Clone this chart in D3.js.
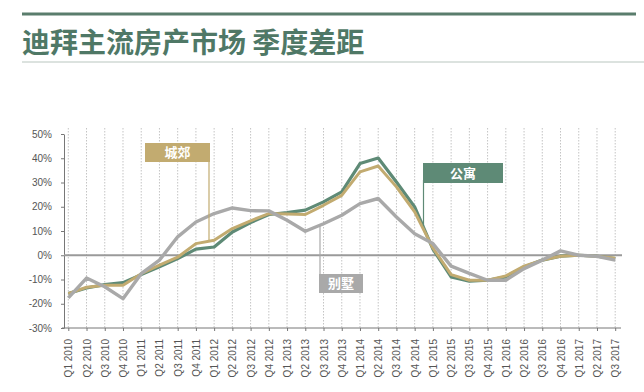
<!DOCTYPE html>
<html><head><meta charset="utf-8">
<script src="https://cdn.jsdelivr.net/npm/d3@7"></script>
<style>body{margin:0;background:#fff}</style>
</head><body>
<svg id="c" width="644" height="392"></svg>
<script>
const categories = ["Q1 2010","Q2 2010","Q3 2010","Q4 2010","Q1 2011","Q2 2011","Q3 2011","Q4 2011","Q1 2012","Q2 2012","Q3 2012","Q4 2012","Q1 2013","Q2 2013","Q3 2013","Q4 2013","Q1 2014","Q2 2014","Q3 2014","Q4 2014","Q1 2015","Q2 2015","Q3 2015","Q4 2015","Q1 2016","Q2 2016","Q3 2016","Q4 2016","Q1 2017","Q2 2017","Q3 2017"];
const apartment = [-15.8,-13.5,-12.1,-11.3,-8,-4.8,-1.4,2.5,3.4,9.6,13.5,16.8,17.6,18.6,22,26.1,37.8,40.1,30.2,19.9,2.5,-8.9,-10.7,-10.3,-8.9,-4.8,-2,-0.4,0,-0.4,-1.4];
const suburb = [-15.8,-13.2,-12.4,-12.4,-7.6,-4.1,-0.8,4.8,6.2,11,14.2,17.2,17,16.8,20.6,24.7,34.4,36.8,28.2,17.9,3,-8,-10.3,-10.3,-8.5,-4.5,-2,-0.4,0,-0.4,-1.2];
const villa = [-17.6,-9.4,-13,-17.9,-7.6,-2,7.6,13.7,17.2,19.5,18.4,18.3,14.4,9.9,13,16.5,21.3,23.4,15.8,8.9,4.8,-4.5,-7.5,-10.3,-10.3,-5.5,-2,1.8,0,-0.4,-2];
const yTicks = [-30,-20,-10,0,10,20,30,40,50];
const seriesNames = ["公寓","城郊","别墅"];

const svg = d3.select("#c");
const green = "#5e8a76", tan = "#c2ab70", gray = "#a9a9a9";

// title block
svg.append("line").attr("x1",22).attr("x2",636).attr("y1",14).attr("y2",14).attr("stroke","#5a7d6c").attr("stroke-width",3);
svg.append("text").attr("x",22).attr("y",53).text("迪拜主流房产市场 季度差距")
  .attr("font-family","'Noto Sans CJK SC'").attr("font-weight","bold").attr("font-size",28).attr("fill","#4f7866");
svg.append("line").attr("x1",22).attr("x2",644).attr("y1",62).attr("y2",62).attr("stroke","#b9c6bf").attr("stroke-width",1);

const x = d3.scalePoint().domain(categories).range([68.3,615.2]);
const y = d3.scaleLinear().domain([-30,50]).range([328,134]);

// grid
svg.append("g").selectAll("line").data(categories).join("line")
  .attr("x1",d=>x(d)).attr("x2",d=>x(d)).attr("y1",128).attr("y2",328)
  .attr("stroke","#c4c4c4").attr("stroke-width",1).attr("stroke-dasharray","1.5,1.5");

// y axis
const ya = svg.append("g").attr("transform","translate(64,0)")
  .call(d3.axisLeft(y).tickValues(yTicks).tickSize(3).tickSizeOuter(0).tickFormat(d=>d+"%"));
ya.select(".domain").attr("stroke","#777");
ya.selectAll(".tick line").attr("stroke","#777");
ya.selectAll("text").attr("font-family","Liberation Sans, Arial").attr("font-size",10).attr("fill","#555").attr("x",-12);

// x axis
const xa = svg.append("g").attr("transform","translate(0,328)")
  .call(d3.axisBottom(x).tickSize(3).tickSizeOuter(0));
xa.select(".domain").remove();
xa.selectAll(".tick line").attr("stroke","#777");
xa.selectAll("text").attr("font-family","Liberation Sans, Arial").attr("font-size",10).attr("fill","#555")
  .attr("transform","rotate(-90)").attr("text-anchor","end").attr("x",-11).attr("y",0).attr("dy","0.35em");
svg.append("line").attr("x1",62).attr("x2",621).attr("y1",328).attr("y2",328).attr("stroke","#777");

// zero line
svg.append("line").attr("x1",64).attr("x2",622).attr("y1",y(0)).attr("y2",y(0)).attr("stroke","#9a9a9a").attr("stroke-width",2);

const line = d3.line().x((d,i)=>x(categories[i])).y(d=>y(d));
[[apartment,green,3.2],[suburb,tan,3],[villa,gray,3.4]].forEach(([data,c,w])=>{
  svg.append("path").datum(data).attr("d",line).attr("fill","none").attr("stroke",c).attr("stroke-width",w).attr("stroke-linejoin","round");
});

// legend callouts
function callout(name,color,bx,by,bw,bh,lx,ly1,ly2){
  svg.append("line").attr("x1",lx).attr("x2",lx).attr("y1",ly1).attr("y2",ly2).attr("stroke",color).attr("stroke-width",1.2);
  svg.append("rect").attr("x",bx).attr("y",by).attr("width",bw).attr("height",bh).attr("fill",color);
  svg.append("text").attr("x",bx+bw/2).attr("y",by+bh/2).attr("dy","0.36em").attr("text-anchor","middle")
    .attr("fill","#fff").attr("font-family","'Noto Sans CJK SC'").attr("font-weight","bold").attr("font-size",13).text(name);
}
callout(seriesNames[1],tan,145,143,65,19,209,160,y(5.8));
callout(seriesNames[0],green,423,163,80,20,423.5,180,y(12));
callout(seriesNames[2],gray,319,274,44,19,320,y(12.5),276);
</script>
</body></html>
